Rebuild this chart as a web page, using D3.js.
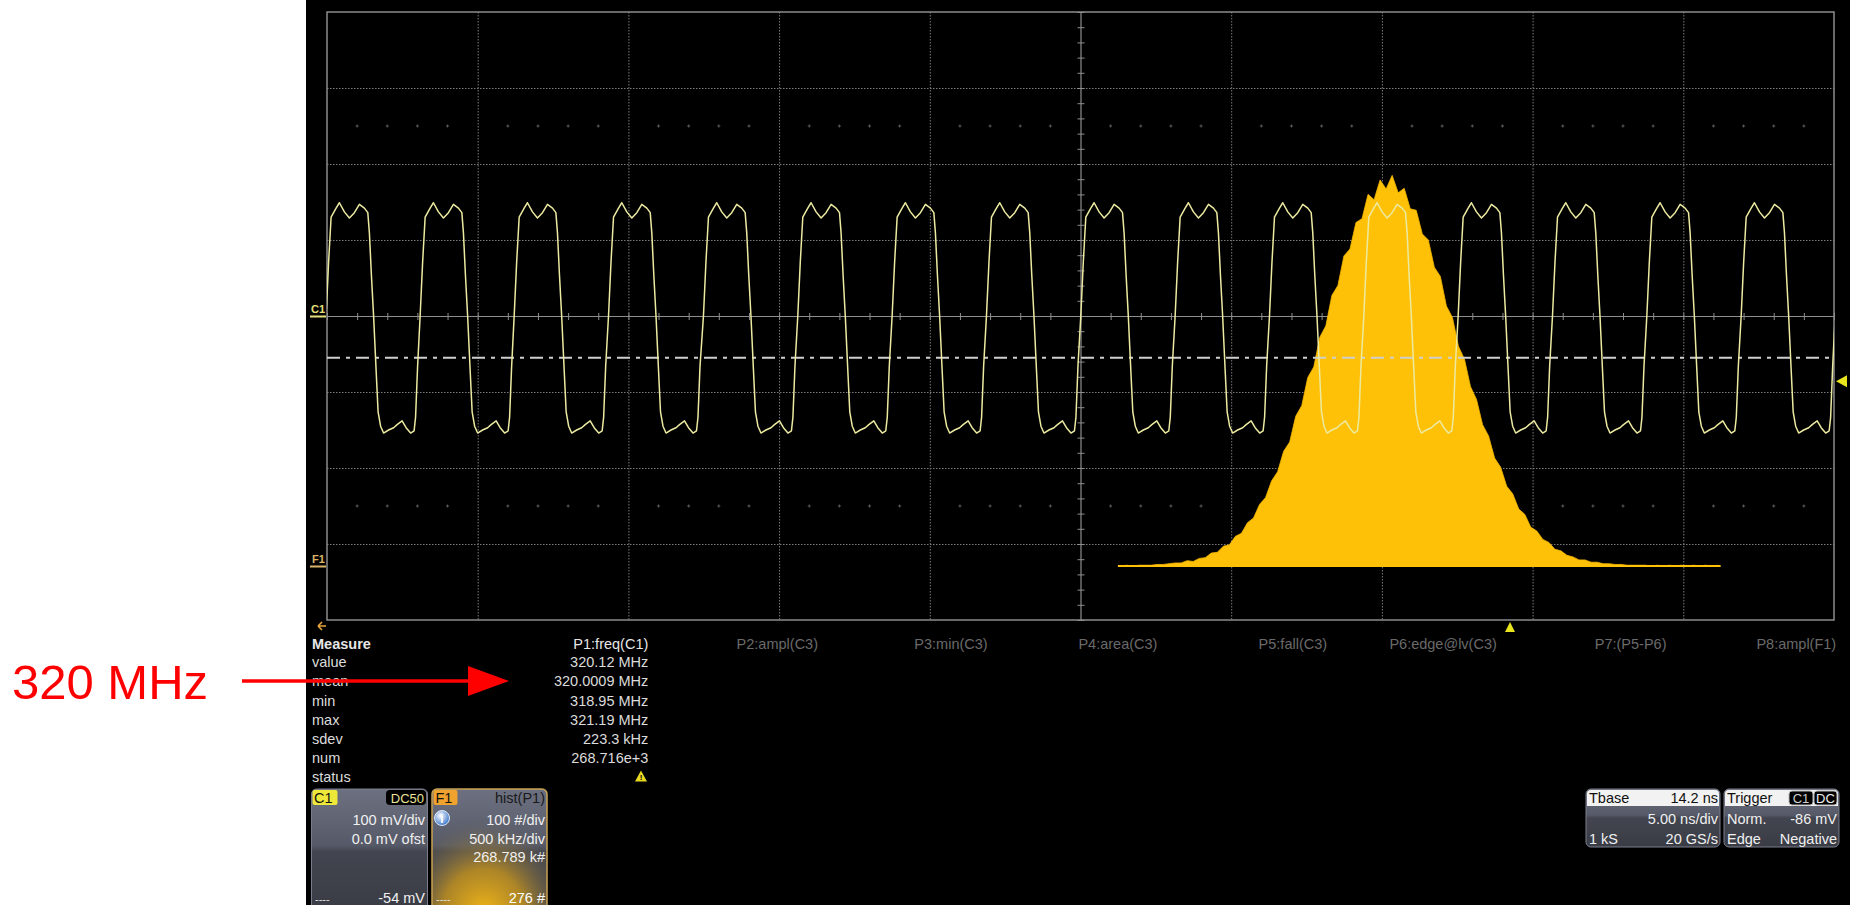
<!DOCTYPE html>
<html><head><meta charset="utf-8">
<script src="https://cdn.jsdelivr.net/npm/d3@7/dist/d3.min.js"></script>
<style>html,body{margin:0;padding:0;background:#fff;overflow:hidden}</style>
</head><body>
<svg id="chart" width="1850" height="905"></svg>
<script>
// ---------------- data ----------------
const timeTicksNs = [0,5,10,15,20,25,30,35,40,45,50];          // 5.00 ns/div
const voltTicksMv = [-400,-300,-200,-100,0,100,200,300,400];    // 100 mV/div
// rising-edge (0 mV crossing) times of C1, ns from left of screen
const pulseRiseNs = [-3.16,-0.03,3.09,6.21,9.34,12.49,15.62,18.75,21.88,25.01,28.14,31.27,34.40,37.53,40.66,43.79,46.92,50.04];
// shape of one cycle of C1 after its rising edge
const pulseShapeNs = [0,0.083,0.166,0.332,0.441,0.607,0.773,0.939,1.105,1.271,1.384,1.437,1.503,1.576,1.659,1.725,1.808,1.908,2.074,2.240,2.356,2.522,2.654,2.804,2.920,2.969,3.036];
const pulseShapeMv = [0,71,130,142,149,137,129,136,147,142,136,109,54,0,-71,-126,-145,-154,-150,-147,-143,-138,-147,-154,-151,-133,-66];
// F1 = hist(P1), 500 kHz/div, 100 #/div
const histScreenCenterMHz = 318.976;
const histStartMHz = 319.10;
const histBinMHz = 0.02;
const histCounts = [0,1,0,1,1,1,2,2,3,4,4,7,6,10,11,17,18,26,28,39,43,57,63,81,90,112,124,151,163,197,
  211,248,262,301,316,356,369,408,417,452,457,489,482,508,496,514,491,497,470,468,
  437,429,393,381,342,327,289,272,236,219,186,171,142,130,105,95,75,68,51,46,
  35,31,22,20,14,12,8,8,5,5,3,3,2,2,1,1,1,1,0,1,0,1,0,1,0,1,0,1,0,1];
const measureHeaders = ["P1:freq(C1)","P2:ampl(C3)","P3:min(C3)","P4:area(C3)","P5:fall(C3)","P6:edge@lv(C3)","P7:(P5-P6)","P8:ampl(F1)"];
const measureRowLabels = ["value","mean","min","max","sdev","num","status"];
const measureP1Values = ["320.12 MHz","320.0009 MHz","318.95 MHz","321.19 MHz","223.3 kHz","268.716e+3"];
const c1Lines = ["100 mV/div","0.0 mV ofst"];
const f1Lines = ["100 #/div","500 kHz/div","268.789 k#"];
const tbaseRows = [["Tbase","14.2 ns"],["","5.00 ns/div"],["1 kS","20 GS/s"]];
const triggerRows = [["Trigger",""],["Norm.","-86 mV"],["Edge","Negative"]];
const cursorLevelMv = -55;
const triggerLevelMv = -86;
const annotationText = "320 MHz";

// ---------------- setup ----------------
const FONT = "'Liberation Sans', Arial, sans-serif";
const svg = d3.select("#chart");
svg.append("rect").attr("width",1850).attr("height",905).attr("fill","#fff");
svg.append("rect").attr("x",306).attr("y",0).attr("width",1544).attr("height",905).attr("fill","#000");

const xTime = d3.scaleLinear().domain([0,50]).range([327,1834]);
const yVolt = d3.scaleLinear().domain([-400,400]).range([620,12]);
const xFreq = d3.scaleLinear().domain([histScreenCenterMHz-2.5, histScreenCenterMHz+2.5]).range([327,1834]);
const yCount = d3.scaleLinear().domain([0,100]).range([566,490]);
const X0 = xTime(0), X1 = xTime(50), Y0 = yVolt(400), Y1 = yVolt(-400);
const XC = xTime(25), YC = yVolt(0);

const defs = svg.append("defs");
defs.append("clipPath").attr("id","grid-clip").append("rect")
  .attr("x",X0).attr("y",Y0).attr("width",X1-X0).attr("height",Y1-Y0);

// ---------------- grid ----------------
const g = svg.append("g");
g.selectAll("line.vx").data(timeTicksNs.filter(t=>t>0&&t<50&&t!==25)).join("line")
  .attr("x1",d=>xTime(d)+0.5).attr("x2",d=>xTime(d)+0.5).attr("y1",Y0).attr("y2",Y1)
  .attr("stroke","#7a7a7a").attr("stroke-width",1).attr("stroke-dasharray","1.5,1.5");
g.selectAll("line.hy").data(voltTicksMv.filter(v=>v>-400&&v<400&&v!==0)).join("line")
  .attr("y1",d=>yVolt(d)+0.5).attr("y2",d=>yVolt(d)+0.5).attr("x1",X0).attr("x2",X1)
  .attr("stroke","#7a7a7a").attr("stroke-width",1).attr("stroke-dasharray","1.5,1.5");
// subdivision dots on rows at +-2.5 div
const subT = d3.range(0,50.01,1).filter(t=>t%5!==0);
[250,-250].forEach(v=>{
  g.selectAll(null).data(subT).join("path")
    .attr("d",d=>`M${xTime(d)-1.5},${yVolt(v)}h3M${xTime(d)},${yVolt(v)-1.5}v3`)
    .attr("stroke","#5c5c5c").attr("stroke-width",1);
});
// center axes
g.append("line").attr("x1",X0).attr("x2",X1).attr("y1",YC+0.5).attr("y2",YC+0.5).attr("stroke","#8e8e8e").attr("stroke-width",1.2);
g.append("line").attr("x1",XC+0.5).attr("x2",XC+0.5).attr("y1",Y0).attr("y2",Y1).attr("stroke","#8e8e8e").attr("stroke-width",1.2);
g.selectAll(null).data(d3.range(0,50.01,1)).join("line")
  .attr("x1",d=>xTime(d)+0.5).attr("x2",d=>xTime(d)+0.5).attr("y1",YC-3).attr("y2",YC+4)
  .attr("stroke","#8e8e8e").attr("stroke-width",1);
g.selectAll(null).data(d3.range(-400,400.1,20)).join("line")
  .attr("y1",d=>yVolt(d)+0.5).attr("y2",d=>yVolt(d)+0.5).attr("x1",XC-3).attr("x2",XC+4)
  .attr("stroke","#8e8e8e").attr("stroke-width",1);
g.append("rect").attr("x",X0).attr("y",Y0).attr("width",X1-X0).attr("height",Y1-Y0)
  .attr("fill","none").attr("stroke","#8c8c8c").attr("stroke-width",1.5);

// ---------------- histogram F1 ----------------
const histData = histCounts.map((c,i)=>({f: histStartMHz + (i+0.5)*histBinMHz, c}));
const plot = svg.append("g").attr("clip-path","url(#grid-clip)");
plot.append("path").datum(histData)
  .attr("d", d3.area().x(d=>xFreq(d.f)).y0(yCount(0)).y1(d=>yCount(d.c)))
  .attr("fill","#FFC107").attr("stroke","#F5B800").attr("stroke-width",0.8);
plot.append("line").attr("x1",xFreq(histData[0].f)-3).attr("x2",xFreq(histData[histData.length-1].f)+3)
  .attr("y1",yCount(0)).attr("y2",yCount(0)).attr("stroke","#FFC107").attr("stroke-width",2);

// cursor dash-dot line
plot.append("line").attr("x1",X0).attr("x2",X1).attr("y1",yVolt(cursorLevelMv)).attr("y2",yVolt(cursorLevelMv))
  .attr("stroke","#cfcfcf").attr("stroke-width",2).attr("stroke-dasharray","13,6,4,6");

// ---------------- waveform C1 ----------------
const wave = [];
pulseRiseNs.forEach(r => pulseShapeNs.forEach((t,j)=> wave.push({t: r+t, v: pulseShapeMv[j]})));
plot.append("path").datum(wave)
  .attr("d", d3.line().x(d=>xTime(d.t)).y(d=>yVolt(d.v)))
  .attr("fill","none").attr("stroke","#ECEAA0").attr("stroke-width",1.5).attr("stroke-linejoin","round");

// ---------------- markers ----------------
svg.append("text").attr("x",311).attr("y",YC-3).text("C1").attr("font-family",FONT).attr("font-size",11).attr("font-weight","bold").attr("fill","#E4E07A");
svg.append("line").attr("x1",310).attr("x2",326).attr("y1",YC+0.5).attr("y2",YC+0.5).attr("stroke","#E4E07A").attr("stroke-width",2);
svg.append("text").attr("x",312).attr("y",yCount(0)-3).text("F1").attr("font-family",FONT).attr("font-size",11).attr("font-weight","bold").attr("fill","#D9B468");
svg.append("line").attr("x1",310).attr("x2",326).attr("y1",yCount(0)+0.5).attr("y2",yCount(0)+0.5).attr("stroke","#D9B468").attr("stroke-width",2);
svg.append("path").attr("d","M318,626 l4,-4 M318,626 l4,4 M318,626 h8").attr("stroke","#E6A53A").attr("stroke-width",1.6).attr("fill","none");
const ty = yVolt(triggerLevelMv);
svg.append("path").attr("d",`M1836,${ty} L1847,${ty-6} L1847,${ty+6} Z`).attr("fill","#E8E41E");
svg.append("path").attr("d","M1510,622 L1515,632 L1505,632 Z").attr("fill","#E8E41E");

// ---------------- measure table ----------------
const mt = svg.append("g").attr("font-family",FONT).attr("font-size",14.5);
const rowY = i => 649 + i*19.2;
mt.append("text").attr("x",312).attr("y",rowY(0)).text("Measure").attr("font-weight","bold").attr("fill","#e6e6e6");
measureRowLabels.forEach((l,i)=> mt.append("text").attr("x",312).attr("y",rowY(i+1)-1).text(l).attr("fill","#dcdcdc"));
measureHeaders.forEach((h,i)=> mt.append("text").attr("x",648.3+169.7*i).attr("y",rowY(0)).attr("text-anchor","end")
  .text(h).attr("fill", i===0 ? "#e6e6e6" : "#6a6a6a"));
measureP1Values.forEach((v,i)=> mt.append("text").attr("x",648.3).attr("y",rowY(i+1)-1).attr("text-anchor","end").text(v).attr("fill","#dcdcdc"));
// status warning
mt.append("path").attr("d",`M641,${rowY(7)-13} L647,${rowY(7)-2} L635,${rowY(7)-2} Z`).attr("fill","#E8D820");
mt.append("text").attr("x",641).attr("y",rowY(7)-3).attr("text-anchor","middle").attr("font-size",8).attr("font-weight","bold").text("!").attr("fill","#000");

// ---------------- channel boxes ----------------
const gC = defs.append("linearGradient").attr("id","boxg").attr("x1",0).attr("x2",0).attr("y1",0).attr("y2",1);
gC.append("stop").attr("offset","0").attr("stop-color","#6c7080");
gC.append("stop").attr("offset","0.45").attr("stop-color","#565a68");
gC.append("stop").attr("offset","0.5").attr("stop-color","#42454f");
gC.append("stop").attr("offset","1").attr("stop-color","#3a3c45");
const rg = defs.append("radialGradient").attr("id","glow").attr("cx","0.45").attr("cy","1").attr("r","0.8");
rg.append("stop").attr("offset","0").attr("stop-color","#F4B818");
rg.append("stop").attr("offset","0.45").attr("stop-color","#C8961E").attr("stop-opacity",0.8);
rg.append("stop").attr("offset","1").attr("stop-color","#555866").attr("stop-opacity",0);

const bx = svg.append("g").attr("font-family",FONT).attr("font-size",14.5);
// C1 box
bx.append("rect").attr("x",311.5).attr("y",789).attr("width",116).attr("height",125).attr("rx",5).attr("fill","url(#boxg)").attr("stroke","#7a7e8c");
bx.append("rect").attr("x",312.5).attr("y",790).attr("width",25).attr("height",15).attr("rx",2).attr("fill","#EEE83A");
bx.append("text").attr("x",314).attr("y",803).text("C1").attr("fill","#111");
bx.append("rect").attr("x",386).attr("y",790).attr("width",40).attr("height",15).attr("rx",4).attr("fill","#000");
bx.append("text").attr("x",424).attr("y",803).attr("text-anchor","end").attr("font-size",13).text("DC50").attr("fill","#E8E49A");
c1Lines.forEach((t,i)=> bx.append("text").attr("x",425).attr("y",825+18.5*i).attr("text-anchor","end").text(t).attr("fill","#f0f0f0"));
bx.append("text").attr("x",315).attr("y",903).text("----").attr("fill","#e0e0e0").attr("font-size",11);
bx.append("text").attr("x",425).attr("y",903).attr("text-anchor","end").text("-54 mV").attr("fill","#f0f0f0");
// F1 box
bx.append("rect").attr("x",432).attr("y",789).attr("width",115).attr("height",125).attr("rx",5).attr("fill","url(#boxg)");
bx.append("rect").attr("x",432).attr("y",789).attr("width",115).attr("height",125).attr("rx",5).attr("fill","url(#glow)").attr("stroke","#C9A252").attr("stroke-width",1.5);
bx.append("rect").attr("x",433.5).attr("y",790).attr("width",24).attr("height",15).attr("rx",2).attr("fill","#F0A22E");
bx.append("text").attr("x",435.5).attr("y",803).text("F1").attr("fill","#111");
bx.append("text").attr("x",545).attr("y",803).attr("text-anchor","end").text("hist(P1)").attr("fill","#1a1a1a");
const ig = defs.append("radialGradient").attr("id","info").attr("cx","0.4").attr("cy","0.35").attr("r","0.7");
ig.append("stop").attr("offset","0").attr("stop-color","#ffffff");
ig.append("stop").attr("offset","1").attr("stop-color","#2f6fc8");
bx.append("circle").attr("cx",442).attr("cy",818).attr("r",7.5).attr("fill","url(#info)").attr("stroke","#dfe8f5").attr("stroke-width",1);
bx.append("text").attr("x",442).attr("y",822.5).attr("text-anchor","middle").attr("font-size",12).attr("font-weight","bold").text("i").attr("fill","#fff");
f1Lines.forEach((t,i)=> bx.append("text").attr("x",545).attr("y",825+18.5*i).attr("text-anchor","end").text(t).attr("fill","#f0f0f0"));
bx.append("text").attr("x",436).attr("y",903).text("----").attr("fill","#e0e0e0").attr("font-size",11);
bx.append("text").attr("x",545).attr("y",903).attr("text-anchor","end").text("276 #").attr("fill","#ffffff");

// Tbase box
function infoBox(x, w, rows){
  bx.append("rect").attr("x",x).attr("y",789).attr("width",w).attr("height",58).attr("rx",5).attr("fill","url(#boxg)").attr("stroke","#7a7e8c");
  bx.append("path").attr("d",`M${x+1},806 V794 q0,-4 4,-4 H${x+w-5} q4,0 4,4 V806 Z`).attr("fill","#f2f2f2");
  rows.forEach((r,i)=>{
    const y = 803 + 20.5*i;
    const col = i===0 ? "#111" : "#f0f0f0";
    bx.append("text").attr("x",x+3).attr("y",y).text(r[0]).attr("fill",col);
    bx.append("text").attr("x",x+w-2).attr("y",y).attr("text-anchor","end").text(r[1]).attr("fill",col);
  });
}
infoBox(1586, 134, tbaseRows);
infoBox(1724, 115, triggerRows);
bx.append("rect").attr("x",1789).attr("y",791).attr("width",24).attr("height",14).attr("rx",3).attr("fill","#000").attr("stroke","#bbb");
bx.append("text").attr("x",1801).attr("y",803).attr("text-anchor","middle").attr("font-size",13).text("C1").attr("fill","#cfcfcf");
bx.append("rect").attr("x",1814).attr("y",791).attr("width",23).attr("height",14).attr("rx",3).attr("fill","#000").attr("stroke","#bbb");
bx.append("text").attr("x",1825.5).attr("y",803).attr("text-anchor","middle").attr("font-size",13).text("DC").attr("fill","#f0f0f0");

// ---------------- annotation ----------------
svg.append("text").attr("x",12).attr("y",699).text(annotationText).attr("font-family",FONT).attr("font-size",49).attr("fill","#FF0000");
svg.append("line").attr("x1",242).attr("x2",472).attr("y1",681).attr("y2",681).attr("stroke","#FF0000").attr("stroke-width",3.5);
svg.append("path").attr("d","M468,666 L509,681 L468,696 Z").attr("fill","#FF0000");
</script>
</body></html>
